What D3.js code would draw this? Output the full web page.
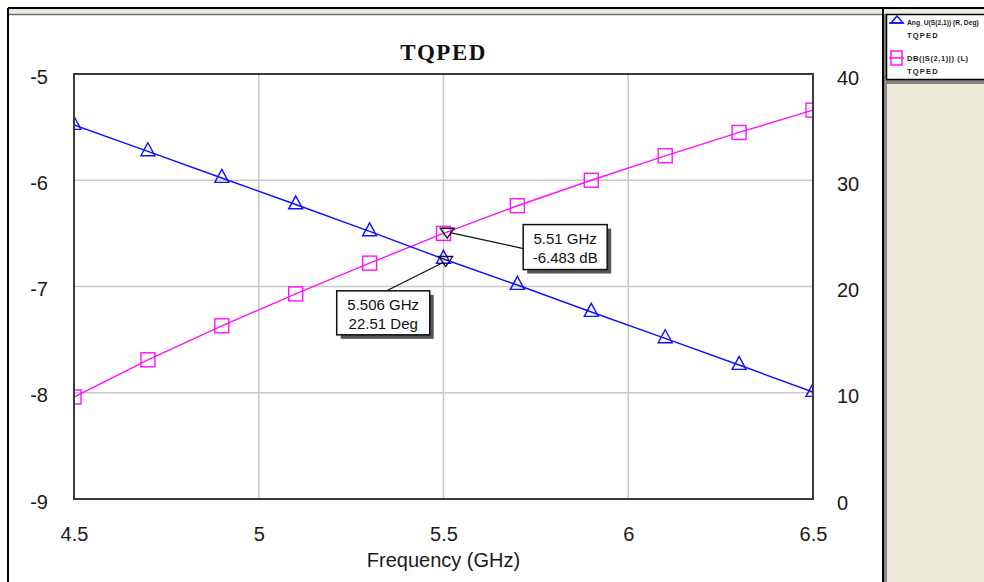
<!DOCTYPE html>
<html>
<head>
<meta charset="utf-8">
<script src="https://cdn.jsdelivr.net/npm/d3@7"></script>
<style>
  html, body { margin: 0; padding: 0; background: #ffffff; }
  svg { display: block; }
</style>
</head>
<body>
<svg id="chart" width="984" height="582" font-family="Liberation Sans, Arial, sans-serif"></svg>
<script>
// Sweep frequencies (GHz) and the two traces of S21
const freqs  = [4.5, 4.7, 4.9, 5.1, 5.3, 5.5, 5.7, 5.9, 6.1, 6.3, 6.5];
const angDeg = [35.20, 32.71, 30.21, 27.72, 25.18, 22.59, 20.14, 17.60, 15.11, 12.61, 10.07]; // Ang_U(S(2,1)), right axis
const dbMag  = [-8.04, -7.69, -7.37, -7.07, -6.78, -6.50, -6.24, -6.00, -5.77, -5.55, -5.34]; // DB(|S(2,1)|), left axis

// Axis ticks
const xTicks      = [4.5, 5, 5.5, 6, 6.5];
const yLeftTicks  = [-9, -8, -7, -6, -5];
const yRightTicks = [0, 10, 20, 30, 40];

// Trace markers
const markerFreqs  = [5.51, 5.506];
const markerValues = [-6.483, 22.51];
const markerAxes   = ["L", "R"];
const markerLabels = [["5.51 GHz", "-6.483 dB"], ["5.506 GHz", "22.51 Deg"]];

// Legend entries
const legendNames = ["Ang_U(S(2,1)) (R, Deg)", "DB(|S(2,1)|) (L)"];
const docName = "TQPED";

const svg = d3.select("#chart");
const plot = { left: 74, right: 813, top: 74, bottom: 499 };

const x  = d3.scaleLinear().domain([4.5, 6.5]).range([plot.left, plot.right]);
const yL = d3.scaleLinear().domain([-9, -5]).range([plot.bottom, plot.top]);
const yR = d3.scaleLinear().domain([0, 40]).range([plot.bottom, plot.top]);

const BLUE = "#1010ff", MAGENTA = "#ff10ff";
const SANS = "Liberation Sans, Arial, sans-serif";
const plain = d => String(d);   // hyphen-minus, as the instrument software prints it

// ---- window frame ----
svg.append("rect").attr("x", 8).attr("y", 8).attr("width", 976).attr("height", 6).attr("fill", "#ece9d8");
svg.append("line").attr("x1", 8).attr("x2", 984).attr("y1", 8).attr("y2", 8).attr("stroke", "#000").attr("stroke-width", 2);
svg.append("line").attr("x1", 9).attr("x2", 884).attr("y1", 14.5).attr("y2", 14.5).attr("stroke", "#707070").attr("stroke-width", 1.5);
svg.append("line").attr("x1", 8).attr("x2", 8).attr("y1", 8).attr("y2", 582).attr("stroke", "#000").attr("stroke-width", 2);

// right-hand legend pane
svg.append("rect").attr("x", 884).attr("y", 9).attr("width", 100).attr("height", 573).attr("fill", "#ece9d8");
svg.append("line").attr("x1", 883).attr("x2", 883).attr("y1", 8).attr("y2", 582).attr("stroke", "#000").attr("stroke-width", 2);
svg.append("line").attr("x1", 885.5).attr("x2", 885.5).attr("y1", 14).attr("y2", 582).attr("stroke", "#8a8a8a").attr("stroke-width", 3);
svg.append("rect").attr("x", 887).attr("y", 80).attr("width", 97).attr("height", 4).attr("fill", "#808080");
svg.append("rect").attr("x", 886.5).attr("y", 14.5).attr("width", 110).attr("height", 65)
  .attr("fill", "#fff").attr("stroke", "#000").attr("stroke-width", 1.5);

const legG = svg.append("g");
const legendRows = [
  { name: legendNames[0], color: BLUE, shape: "tri", y: 22, size: 6.7, spacing: 0 },
  { name: legendNames[1], color: MAGENTA, shape: "sq", y: 58, size: 7.5, spacing: 0.6 }
];
legendRows.forEach(r => {
  const ly = r.shape === "tri" ? r.y + 1 : r.y;
  legG.append("line").attr("x1", 889).attr("x2", 904).attr("y1", ly).attr("y2", ly)
    .attr("stroke", r.color).attr("stroke-width", 1.5);
  if (r.shape === "tri") {
    legG.append("path").attr("d", `M${897},${r.y - 6} L${903},${r.y + 1} L${891},${r.y + 1} Z`)
      .attr("fill", "none").attr("stroke", r.color).attr("stroke-width", 1.5);
  } else {
    legG.append("rect").attr("x", 891).attr("y", r.y - 7).attr("width", 11).attr("height", 14)
      .attr("fill", "none").attr("stroke", r.color).attr("stroke-width", 1.5);
  }
  legG.append("text").attr("x", 907).attr("y", r.y + 3).text(r.name)
    .attr("font-size", r.size).attr("font-weight", "bold").attr("letter-spacing", r.spacing).attr("fill", "#202020");
  legG.append("text").attr("x", 907).attr("y", r.y + 16).text(docName)
    .attr("font-size", 7.5).attr("font-weight", "bold").attr("letter-spacing", 1.2).attr("fill", "#202020");
});

// ---- gridlines ----
const grid = svg.append("g").attr("stroke", "#c8c8c8").attr("stroke-width", 1.5);
xTicks.slice(1, -1).forEach(t => grid.append("line")
  .attr("x1", x(t)).attr("x2", x(t)).attr("y1", plot.top).attr("y2", plot.bottom));
yLeftTicks.slice(1, -1).forEach(t => grid.append("line")
  .attr("x1", plot.left).attr("x2", plot.right).attr("y1", yL(t)).attr("y2", yL(t)));

// ---- axes (labels only, the frame is drawn as a box) ----
const fontAxis = 20;
const xAxis = svg.append("g").attr("transform", `translate(0,${plot.bottom})`)
  .call(d3.axisBottom(x).tickValues(xTicks).tickSize(0).tickFormat(plain));
xAxis.select(".domain").remove();
xAxis.selectAll("text").attr("y", 42).attr("dy", null)
  .attr("font-size", fontAxis).attr("font-family", SANS).attr("fill", "#1a1a1a");

const yAxisL = svg.append("g").attr("transform", `translate(${plot.left},0)`)
  .call(d3.axisLeft(yL).tickValues(yLeftTicks).tickSize(0).tickFormat(plain));
yAxisL.select(".domain").remove();
yAxisL.selectAll("text").attr("x", -26).attr("dy", null).attr("y", 9)
  .attr("font-size", fontAxis).attr("font-family", SANS).attr("fill", "#1a1a1a");

const yAxisR = svg.append("g").attr("transform", `translate(${plot.right},0)`)
  .call(d3.axisRight(yR).tickValues(yRightTicks).tickSize(0).tickFormat(plain));
yAxisR.select(".domain").remove();
yAxisR.selectAll("text").attr("x", 24).attr("dy", null).attr("y", 10)
  .attr("font-size", fontAxis).attr("font-family", SANS).attr("fill", "#1a1a1a");

svg.append("text").attr("x", (plot.left + plot.right) / 2).attr("y", 567).attr("text-anchor", "middle")
  .attr("font-size", 20).attr("fill", "#1a1a1a").text("Frequency (GHz)");

svg.append("text").attr("x", (plot.left + plot.right) / 2).attr("y", 60).attr("text-anchor", "middle")
  .attr("font-family", "Liberation Serif, Times New Roman, serif").attr("font-weight", "bold")
  .attr("font-size", 23).attr("letter-spacing", 1.5).attr("fill", "#111").text("TQPED");

// ---- traces ----
svg.append("clipPath").attr("id", "plotClip").append("rect")
  .attr("x", plot.left).attr("y", plot.top).attr("width", plot.right - plot.left).attr("height", plot.bottom - plot.top);
const series = svg.append("g").attr("clip-path", "url(#plotClip)");

const angPts = freqs.map((f, i) => [x(f), yR(angDeg[i])]);
const dbPts  = freqs.map((f, i) => [x(f), yL(dbMag[i])]);

series.append("path").attr("d", d3.line()(dbPts)).attr("fill", "none").attr("stroke", MAGENTA).attr("stroke-width", 1.4);
series.append("path").attr("d", d3.line()(angPts)).attr("fill", "none").attr("stroke", BLUE).attr("stroke-width", 1.4);

// square markers, 14 px
series.selectAll("rect.sq").data(dbPts).join("rect").attr("class", "sq")
  .attr("x", d => d[0] - 7).attr("y", d => d[1] - 7).attr("width", 14).attr("height", 14)
  .attr("fill", "none").attr("stroke", MAGENTA).attr("stroke-width", 1.4);

// triangle markers with centroid on the data point
const triPath = (cx, cy, w, h, down) => {
  if (!down) return `M${cx},${cy - 2 * h / 3} L${cx + w / 2},${cy + h / 3} L${cx - w / 2},${cy + h / 3} Z`;
  return `M${cx - w / 2},${cy - h / 3} L${cx + w / 2},${cy - h / 3} L${cx},${cy + 2 * h / 3} Z`;
};
series.selectAll("path.tri").data(angPts).join("path").attr("class", "tri")
  .attr("d", d => triPath(d[0], d[1], 14, 13, false))
  .attr("fill", "none").attr("stroke", BLUE).attr("stroke-width", 1.4);

// ---- plot frame ----
svg.append("rect").attr("x", plot.left).attr("y", plot.top)
  .attr("width", plot.right - plot.left).attr("height", plot.bottom - plot.top)
  .attr("fill", "none").attr("stroke", "#3a3a3a").attr("stroke-width", 2);

// ---- data markers with readout boxes ----
const boxLayout = [
  { dx: 76, dy: -7, w: 84, h: 45, lx: 76, ly: 17, from: [3, 1] },
  { dx: -109, dy: 31, w: 93, h: 44, lx: -59, ly: 31, from: [-3, 3] }
];
markerFreqs.forEach((f, i) => {
  const px = x(f);
  const py = markerAxes[i] === "L" ? yL(markerValues[i]) : yR(markerValues[i]);
  const b = boxLayout[i];
  const bx = px + b.dx, by = py + b.dy;
  const g = svg.append("g");
  g.append("line").attr("x1", px + b.from[0]).attr("y1", py + b.from[1])
    .attr("x2", px + b.lx).attr("y2", py + b.ly).attr("stroke", "#111").attr("stroke-width", 1.2);
  g.append("path").attr("d", triPath(px, py, 14, 10, true))
    .attr("fill", "none").attr("stroke", "#111").attr("stroke-width", 1.3);
  g.append("rect").attr("x", bx + 4).attr("y", by + 4).attr("width", b.w).attr("height", b.h).attr("fill", "#555");
  g.append("rect").attr("x", bx).attr("y", by).attr("width", b.w).attr("height", b.h)
    .attr("fill", "#fff").attr("stroke", "#111").attr("stroke-width", 1.5);
  markerLabels[i].forEach((t, j) => g.append("text")
    .attr("x", bx + b.w / 2).attr("y", by + 19 + j * 19).attr("text-anchor", "middle")
    .attr("font-size", 15).attr("fill", "#111").text(t));
});
</script>
</body>
</html>
